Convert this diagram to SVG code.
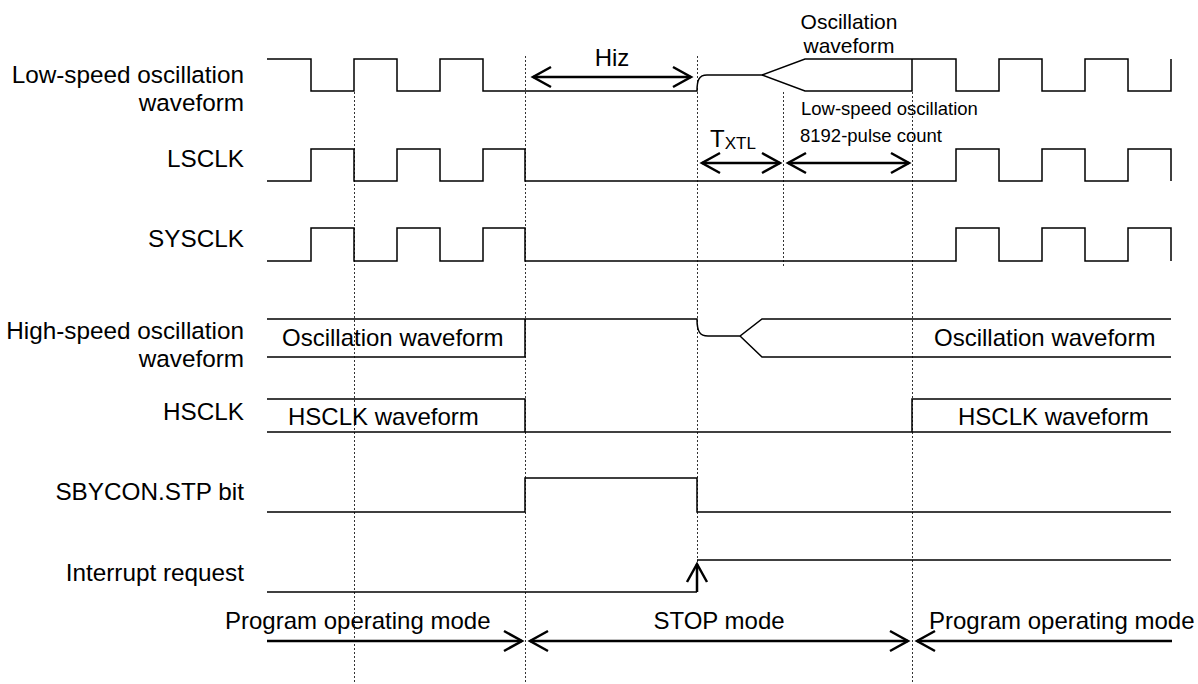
<svg xmlns="http://www.w3.org/2000/svg" width="1198" height="684" viewBox="0 0 1198 684">
<style>
text{font-family:"Liberation Sans",Arial,sans-serif;fill:#000}
.lbl{font-size:24.3px;text-anchor:end}
.t24{font-size:24px}
.t21{font-size:21px;text-anchor:middle}
.t18{font-size:18.5px}
.w{fill:none;stroke:#000;stroke-width:1.5}
.d{fill:none;stroke:#333;stroke-width:1;stroke-dasharray:2,2}
.a{fill:none;stroke:#000;stroke-width:2.5;marker-start:url(#ah);marker-end:url(#ah)}
.ae{fill:none;stroke:#000;stroke-width:2.5;marker-end:url(#ah)}
</style>
<defs>
<marker id="ah" markerUnits="userSpaceOnUse" markerWidth="24" markerHeight="28" viewBox="-22 -14 24 28" refX="0" refY="0" orient="auto-start-reverse" overflow="visible">
<path d="M-18,-10 L0,0 L-18,10" fill="none" stroke="#000" stroke-width="2.5"/>
</marker>
</defs>
<rect width="1198" height="684" fill="#fff"/>
<g id="guides">
<line class="d" x1="354.5" y1="92" x2="354.5" y2="684"/>
<line class="d" x1="525.5" y1="56" x2="525.5" y2="684"/>
<line class="d" x1="697.5" y1="56" x2="697.5" y2="562"/>
<line class="d" x1="783.5" y1="92" x2="783.5" y2="268"/>
<line class="d" x1="912.5" y1="92" x2="912.5" y2="684"/>
</g>
<g id="labels">
<text class="lbl" x="244" y="83">Low-speed oscillation</text>
<text class="lbl" x="244" y="111">waveform</text>
<text class="lbl" x="244" y="167">LSCLK</text>
<text class="lbl" x="244" y="247">SYSCLK</text>
<text class="lbl" x="244" y="339">High-speed oscillation</text>
<text class="lbl" x="244" y="367">waveform</text>
<text class="lbl" x="244" y="420">HSCLK</text>
<text class="lbl" x="244" y="500">SBYCON.STP bit</text>
<text class="lbl" x="244" y="581">Interrupt request</text>
</g>
<g id="ls-osc">
<path class="w" d="M267,59 H311 V91 H354 V59 H397 V91 H440 V59 H483 V91 H697 C697,80 699,75 707,75 H762 L805,59 H956 V91 H999 V59 H1042 V91 H1085 V59 H1128 V91 H1171 V59"/>
<path class="w" d="M762,75 L805,91 H912 V59"/>
<text class="t21" x="849" y="29">Oscillation</text>
<text class="t21" x="849" y="53">waveform</text>
</g>
<g id="lsclk">
<path class="w" d="M267,181 H311 V149 H354 V181 H397 V149 H440 V181 H483 V149 H525 V181 H956 V149 H999 V181 H1042 V149 H1085 V181 H1128 V149 H1171 V181"/>
</g>
<g id="sysclk">
<path class="w" d="M267,261 H311 V228 H354 V261 H397 V228 H440 V261 H483 V228 H525 V261 H956 V228 H999 V261 H1042 V228 H1085 V261 H1128 V228 H1171 V261"/>
</g>
<g id="hs-osc">
<path class="w" d="M267,357 H525 V319"/>
<path class="w" d="M267,319 H697 C697,332 700,336 708,336 H740 L762,319 H1171"/>
<path class="w" d="M740,336 L762,357 H1171"/>
<text class="t24" x="282" y="346">Oscillation waveform</text>
<text class="t24" x="934" y="346">Oscillation waveform</text>
</g>
<g id="hsclk">
<path class="w" d="M267,399 H525 V432"/>
<path class="w" d="M267,432 H1171"/>
<path class="w" d="M912,432 V399 H1171"/>
<text class="t24" x="288" y="425">HSCLK waveform</text>
<text class="t24" x="958" y="425">HSCLK waveform</text>
</g>
<g id="sbycon">
<path class="w" d="M267,512 H525 V478 H697 V512 H1171"/>
</g>
<g id="interrupt">
<path class="w" d="M267,592 H697"/>
<path class="w" d="M697,560 H1171"/>
<path class="ae" d="M697,592 V564"/>
</g>
<g id="annotations">
<text class="t24" x="612" y="66" text-anchor="middle">Hiz</text>
<text x="710" y="147" style="font-size:24px">T<tspan style="font-size:17px" dy="2">XTL</tspan></text>
<text class="t18" x="801" y="115">Low-speed oscillation</text>
<text class="t18" x="800" y="142">8192-pulse count</text>
<text class="t24" x="225" y="629">Program operating mode</text>
<text class="t24" x="719" y="629" text-anchor="middle">STOP mode</text>
<text class="t24" x="929" y="629">Program operating mode</text>
</g>
<g id="connectors">
<line class="a" x1="533" y1="77" x2="691" y2="77"/>
<line class="a" x1="702" y1="163" x2="780" y2="163"/>
<line class="a" x1="788" y1="163" x2="909" y2="163"/>
<line class="ae" x1="267" y1="641" x2="522" y2="641"/>
<line class="a" x1="530" y1="641" x2="908" y2="641"/>
<line class="ae" x1="1172" y1="641" x2="917" y2="641"/>
</g>
</svg>
